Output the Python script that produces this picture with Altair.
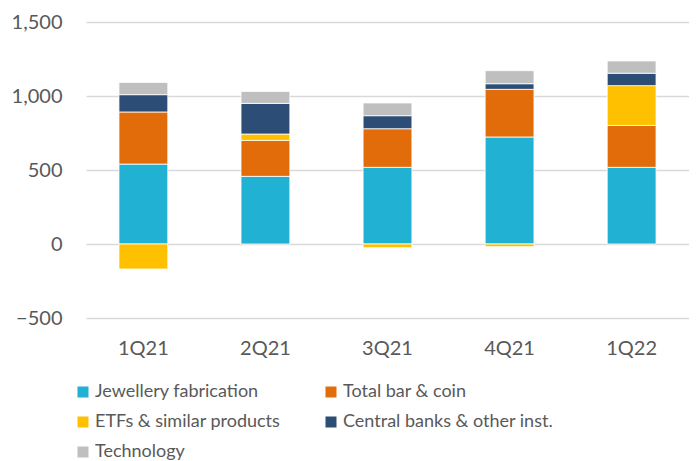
import altair as alt
import pandas as pd

quarters = ["1Q21", "2Q21", "3Q21", "4Q21", "1Q22"]
series = ["Jewellery fabrication", "Total bar & coin", "ETFs & similar products",
          "Central banks & other inst.", "Technology"]
colors = ["#21B1D3", "#E36C0A", "#FFC000", "#2C4D75", "#BFBFBF"]

jewellery = [540, 457, 518, 723, 518]
bar_coin = [352, 243, 261, 322, 283]
etfs = [-169, 43, -25, -18, 269]
central_banks = [117, 207, 88, 38, 84]
technology = [83, 81, 86, 88, 83]

values = [jewellery, bar_coin, etfs, central_banks, technology]
rows = []
for si, (name, vals) in enumerate(zip(series, values)):
    for q, v in zip(quarters, vals):
        rows.append({"quarter": q, "series": name, "value": v, "order": si})
df = pd.DataFrame(rows)

FONT = "Lato"
TXT = "#595959"

chart = alt.Chart(df).mark_bar(stroke="white", strokeWidth=0.8).encode(
    x=alt.X("quarter:N", sort=quarters, title=None,
            scale=alt.Scale(paddingInner=0.6, paddingOuter=0.27),
            axis=alt.Axis(labelAngle=0, domain=False, ticks=False, labelPadding=20,
                          labelFontSize=20, labelColor=TXT, labelFont=FONT)),
    y=alt.Y("value:Q", stack="zero", title=None,
            scale=alt.Scale(domain=[-500, 1500], nice=False),
            axis=alt.Axis(values=[-500, 0, 500, 1000, 1500], format=",.0f", domain=False,
                          ticks=False, labelPadding=24, labelFontSize=20, labelColor=TXT,
                          labelFont=FONT, gridColor="#D9D9D9", gridWidth=1.5)),
    color=alt.Color("series:N", sort=series,
                    scale=alt.Scale(domain=series, range=colors),
                    legend=alt.Legend(title=None, orient="none", legendX=-12, legendY=361,
                                      direction="horizontal", columns=2, columnPadding=41,
                                      rowPadding=12, symbolType="square", symbolSize=121,
                                      symbolStrokeWidth=0, labelFontSize=18, labelLimit=400,
                                      labelColor=TXT, labelFont=FONT, labelOffset=3)),
    order=alt.Order("order:Q"),
).properties(
    width=603, height=296,
    background="white",
    autosize=alt.AutoSizeParams(type="none"),
    padding={"left": 78, "top": 14, "right": 0, "bottom": 143},
).configure_view(strokeWidth=0)

chart.save("out.html", embed_options={"renderer": "svg", "actions": False})
